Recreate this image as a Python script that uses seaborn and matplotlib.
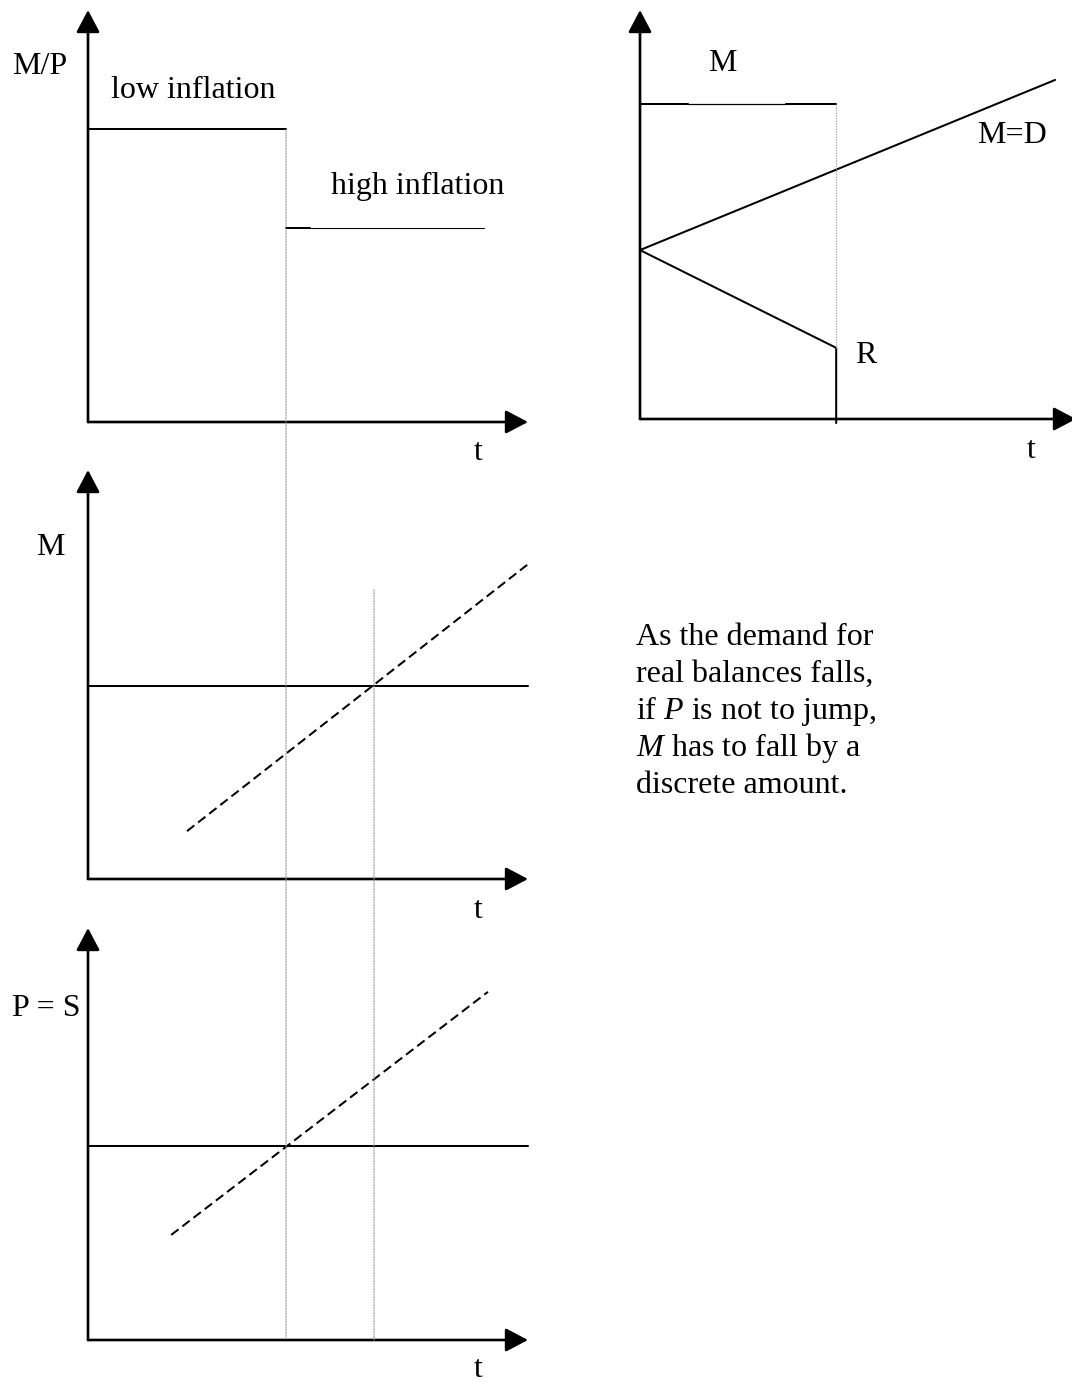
import matplotlib
matplotlib.use("Agg")
import matplotlib.pyplot as plt
from matplotlib.patches import ConnectionPatch
import seaborn as sns

# schematic time units: the switch to high inflation happens at t = 4.5
t_switch = 4.5
t_cross = 6.5

# top-left: real balances M/P
mp_low_t = [0.0, 4.5]
mp_low = [7.1, 7.1]
mp_high_t = [4.5, 5.05, 9.0]
mp_high = [4.7, 4.7, 4.7]

# top-right: money M, demand M=D and reserves R
m_top_t = [0.0, 1.1, 3.35, 4.5]
m_top = [7.7, 7.7, 7.7, 7.7]
md_t = [0.0, 9.52]
md = [4.13, 8.29]
r_t = [0.0, 4.5, 4.5]
r = [4.13, 1.74, -0.1]

# middle-left: money supply path
m_flat_t = [0.0, 10.0]
m_flat = [4.72, 4.72]
m_path_t = [2.25, 9.98]
m_path = [1.17, 7.68]
guide2_top = 7.07

# bottom-left: price level = exchange rate
p_flat_t = [0.0, 10.0]
p_flat = [4.71, 4.71]
p_path_t = [1.89, 9.09]
p_path = [2.55, 8.45]

note_lines = ["As the demand for", "real balances falls,",
              "if $P$ is not to jump,", "$M$ has to fall by a",
              "discrete amount."]

sns.set_style("white")
plt.rcParams["font.family"] = ["Liberation Serif", "DejaVu Serif"]
plt.rcParams["text.color"] = "black"
plt.rcParams["mathtext.fontset"] = "custom"
plt.rcParams["mathtext.rm"] = "Liberation Serif"
plt.rcParams["mathtext.it"] = "Liberation Serif:italic"

W, H = 1072, 1382
fig = plt.figure(figsize=(W / 100, H / 100), dpi=100)
fig.patch.set_facecolor("white")

FS = 23
LW = 1.45


def panel(x0, y0, w, h):
    ax = fig.add_axes([x0 / W, (H - y0) / H, w / W, h / H])
    ax.set_xlim(0, 10)
    ax.set_ylim(0, 10)
    ax.axis("off")
    style = "-|>,head_length=1.37,head_width=0.72"
    for tip in [(10, 0), (0, 10)]:
        ax.annotate("", xy=tip, xytext=(0, 0), annotation_clip=False,
                    arrowprops=dict(arrowstyle=style, mutation_scale=10,
                                    lw=1.9, color="black",
                                    shrinkA=0, shrinkB=0))
    return ax


def seg(ax, x, y, lw=LW, dashes=None):
    sns.lineplot(x=x, y=y, ax=ax, color="black", lw=lw, estimator=None,
                 sort=False, clip_on=False, legend=False)
    if dashes is not None:
        ax.lines[-1].set_dashes(dashes)


def label(x, y, s, ha="left", **kw):
    fig.text(x / W, 1 - y / H, s, ha=ha, va="baseline", fontsize=FS,
             color="black", **kw)


ax1 = panel(88, 422, 440, 412)
ax2 = panel(640, 419, 436, 409)
ax3 = panel(88, 879, 440, 409)
ax4 = panel(88, 1340, 440, 412)

# M/P panel
seg(ax1, mp_low_t, mp_low)
seg(ax1, mp_high_t[:2], mp_high[:2])
seg(ax1, mp_high_t[1:], mp_high[1:], lw=0.75)

# M, M=D, R panel
seg(ax2, m_top_t[:2], m_top[:2])
seg(ax2, m_top_t[1:3], m_top[1:3], lw=0.9)
seg(ax2, m_top_t[2:], m_top[2:])
seg(ax2, md_t, md)
seg(ax2, r_t, r)
ax2.plot([t_switch, t_switch], [m_top[-1], r[1]], color="#999999", lw=0.8,
         dashes=(1.2, 1.2), clip_on=False)

# M panel
seg(ax3, m_flat_t, m_flat)
seg(ax3, m_path_t, m_path, dashes=(4.6, 2.4))

# P = S panel
seg(ax4, p_flat_t, p_flat)
seg(ax4, p_path_t, p_path, dashes=(4.6, 2.4))

# vertical guides running through the left column
for xa, ya, axa in [(t_switch, mp_low[-1], ax1), (t_cross, guide2_top, ax3)]:
    con = ConnectionPatch(xyA=(xa, ya), coordsA="data", axesA=axa,
                          xyB=(xa, 0), coordsB="data", axesB=ax4,
                          color="#999999", lw=0.8, linestyle=(0, (1.2, 1.2)))
    fig.add_artist(con)

label(12, 74, "M/P")
label(111, 98, "low inflation")
label(331, 194, "high inflation")
label(478, 460, "t", ha="center")

label(722, 71, "M", ha="center")
label(977, 143, "M=D")
label(855, 363, "R")
label(1031, 458, "t", ha="center")

label(50, 555, "M", ha="center")
label(478, 918, "t", ha="center")

label(12, 1016, "P = S")
label(478, 1377, "t", ha="center")

for i, line in enumerate(note_lines):
    label(636, 645 + 37 * i, line)

fig.savefig("out.png", dpi=100)
